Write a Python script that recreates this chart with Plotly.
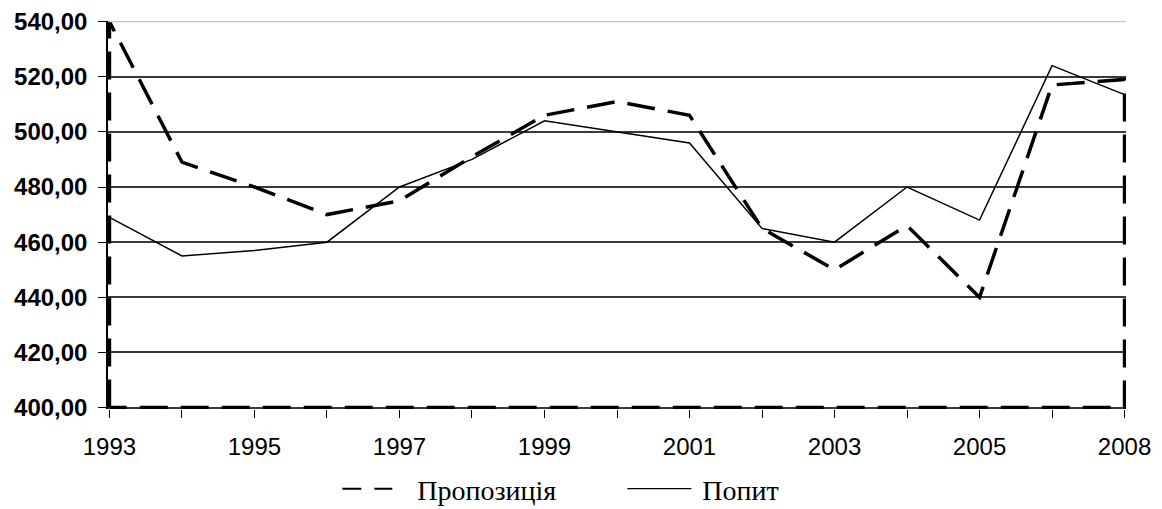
import plotly.graph_objects as go

# ---- data ----
years = ["1993", "1994", "1995", "1996", "1997", "1998", "1999", "2000",
         "2001", "2002", "2003", "2004", "2005", "2006", "2008"]
supply = [540, 489, 480, 470, 475, 491, 506, 511, 506, 465, 450, 466, 440, 517, 519]
demand = [469, 455, 457, 460, 480, 490, 504, 500, 496, 465, 460, 480, 468, 524, 513.5]
tick_years = ["1993", "1995", "1997", "1999", "2001", "2003", "2005", "2008"]
y_ticks = [400, 420, 440, 460, 480, 500, 520, 540]
base = 400
supply_name = "Пропозиція"
demand_name = "Попит"

fig = go.Figure()

# supply drawn as an outlined area (closed to the base line)
sx = [years[0]] + years + [years[-1], years[0]]
sy = [base] + supply + [base, base]
fig.add_trace(go.Scatter(
    x=sx, y=sy, mode="lines", showlegend=False, hoverinfo="skip",
    line=dict(color="black", width=3.5, dash="28px,13px"),
))
fig.add_trace(go.Scatter(
    x=years, y=demand, mode="lines", name=demand_name, showlegend=False,
    line=dict(color="black", width=1.5),
))
# legend entries (symbol patterns leave a gap before the text)
fig.add_trace(go.Scatter(
    x=[None], y=[None], mode="lines", name=supply_name,
    line=dict(color="black", width=2, dash="19px,13px,18px,40px"),
))
fig.add_trace(go.Scatter(
    x=[None], y=[None], mode="lines", name=demand_name,
    line=dict(color="black", width=1.2, dash="64px,40px"),
))

# light top border line at 540
fig.add_shape(type="line", xref="paper", x0=0, x1=1, yref="y", y0=540, y1=540,
              line=dict(color="#c8c8c8", width=1.5), layer="above")

# page body has an 8px margin, so the figure is sized/offset to compensate
fig.update_layout(
    width=1154, height=501,
    margin=dict(l=99.5, r=35.6, t=13.45, b=99.6, pad=0),
    paper_bgcolor="white", plot_bgcolor="white",
    separators=", ",
    showlegend=True,
    legend=dict(
        orientation="h", xref="container", yref="container",
        x=0.2854, xanchor="left", y=0.04, yanchor="middle",
        font=dict(family="Liberation Serif, Times New Roman, serif", size=28, color="black"),
        itemwidth=70, entrywidth=200, bgcolor="rgba(0,0,0,0)",
    ),
    xaxis=dict(
        type="category", categoryorder="array", categoryarray=years,
        range=[-0.02, len(years) - 1 + 0.02], automargin=False,
        tickmode="array", tickvals=years, ticktext=[y if y in tick_years else "" for y in years],
        ticks="outside", ticklen=8, tickwidth=1.2, tickcolor="black",
        showgrid=False, showline=False, zeroline=False, ticklabelstandoff=8,
        ticklabeloverflow="allow",
        tickfont=dict(family="Liberation Sans, Arial, sans-serif", size=24, color="black"),
    ),
    yaxis=dict(
        range=[399.5, 540.2], tickvals=y_ticks, tickformat=".2f", automargin=False,
        ticks="outside", ticklen=8, tickwidth=1.2, tickcolor="black",
        showgrid=True, gridcolor="#3a3a3a", gridwidth=1.5,
        showline=True, linecolor="black", linewidth=1.5,
        zeroline=False, ticklabelstandoff=6, ticklabeloverflow="allow",
        tickfont=dict(family="Liberation Sans, Arial, sans-serif", size=24, color="black", weight="bold"),
    ),
)

fig.write_html("out.html")
